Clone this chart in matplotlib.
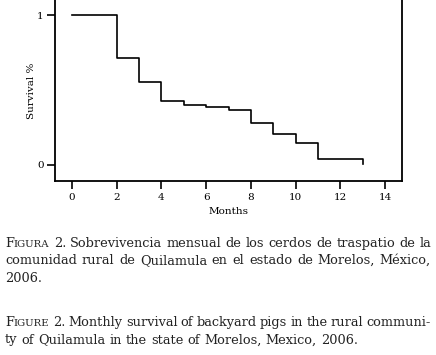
import numpy as np
import matplotlib
matplotlib.use("Agg")
import matplotlib.pyplot as plt

# Kaplan-Meier style step data
months = [0, 2, 3, 4, 5, 6, 7, 8, 9, 10, 11, 13]
survival = [1.0, 0.713, 0.553, 0.427, 0.400, 0.387, 0.369, 0.28, 0.207, 0.147, 0.04, 0.005]
xticks = [0, 2, 4, 6, 8, 10, 12, 14]
yticks = [0, 1]

# caption lines; (text, justified?)
caption_es = [
    ("Figura 2. Sobrevivencia mensual de los cerdos de traspatio de la", True),
    ("comunidad rural de Quilamula en el estado de Morelos, México,", True),
    ("2006.", False),
]
caption_en = [
    ("Figure 2. Monthly survival of backyard pigs in the rural communi-", True),
    ("ty of Quilamula in the state of Morelos, Mexico, 2006.", False),
]

plt.rcParams['font.family'] = ['DejaVu Serif']
W, H = 436, 355
fig = plt.figure(figsize=(W / 100, H / 100), dpi=100)
ax = fig.add_axes([55 / W, 1 - 181 / H, (402 - 55) / W, 181 / H])

# step line: hold each value until next month
ax.step(months, survival, where='post', color='black', lw=1.2)

ax.set_xlim(-0.76, 14.76)
ax.set_ylim(-0.107, 1.102)
ax.set_xticks(xticks)
ax.set_yticks(yticks)
ax.spines['top'].set_visible(False)
for s in ['left', 'right', 'bottom']:
    ax.spines[s].set_linewidth(1.3)
ax.tick_params(direction='out', length=6, width=1.2, labelsize=7.5, colors='black')
ax.tick_params(axis='y', pad=2)
ax.tick_params(axis='x', pad=3)
ax.set_xlabel("Months", fontsize=7.5, labelpad=3)
ax.set_ylabel("Survival %", fontsize=7.5, labelpad=1)

fig.canvas.draw()
renderer = fig.canvas.get_renderer()

FS = 9.3
X0, X1 = 5, 431


def word_pieces(word, first):
    # small caps for the leading "Figura"/"Figure"
    if first and word in ("Figura", "Figure"):
        return [(word[0], FS), (word[1:].upper(), FS * 0.78)]
    return [(word, FS)]


def measure(txt, size):
    t = fig.text(0, 0, txt, fontsize=size)
    w = t.get_window_extent(renderer).width
    t.remove()
    return w


def draw_line(line, justify, y0):
    words = line.split(" ")
    pieces = [word_pieces(w, i == 0) for i, w in enumerate(words)]
    widths = [sum(measure(t, s) for t, s in p) for p in pieces]
    space = measure("a a", FS) - measure("aa", FS)
    if justify and len(words) > 1:
        space = max((X1 - X0 - sum(widths)) / (len(words) - 1), 1.5)
    x = X0
    for p, w in zip(pieces, widths):
        xx = x
        for t, s in p:
            fig.text(xx / W, 1 - y0 / H, t, fontsize=s, ha='left', va='baseline',
                     color='#222222')
            xx += measure(t, s)
        x += w + space


for i, (line, j) in enumerate(caption_es):
    draw_line(line, j, 246.7 + i * 17.5)
for i, (line, j) in enumerate(caption_en):
    draw_line(line, j, 326 + i * 17.5)

fig.savefig("out.png", dpi=100)
